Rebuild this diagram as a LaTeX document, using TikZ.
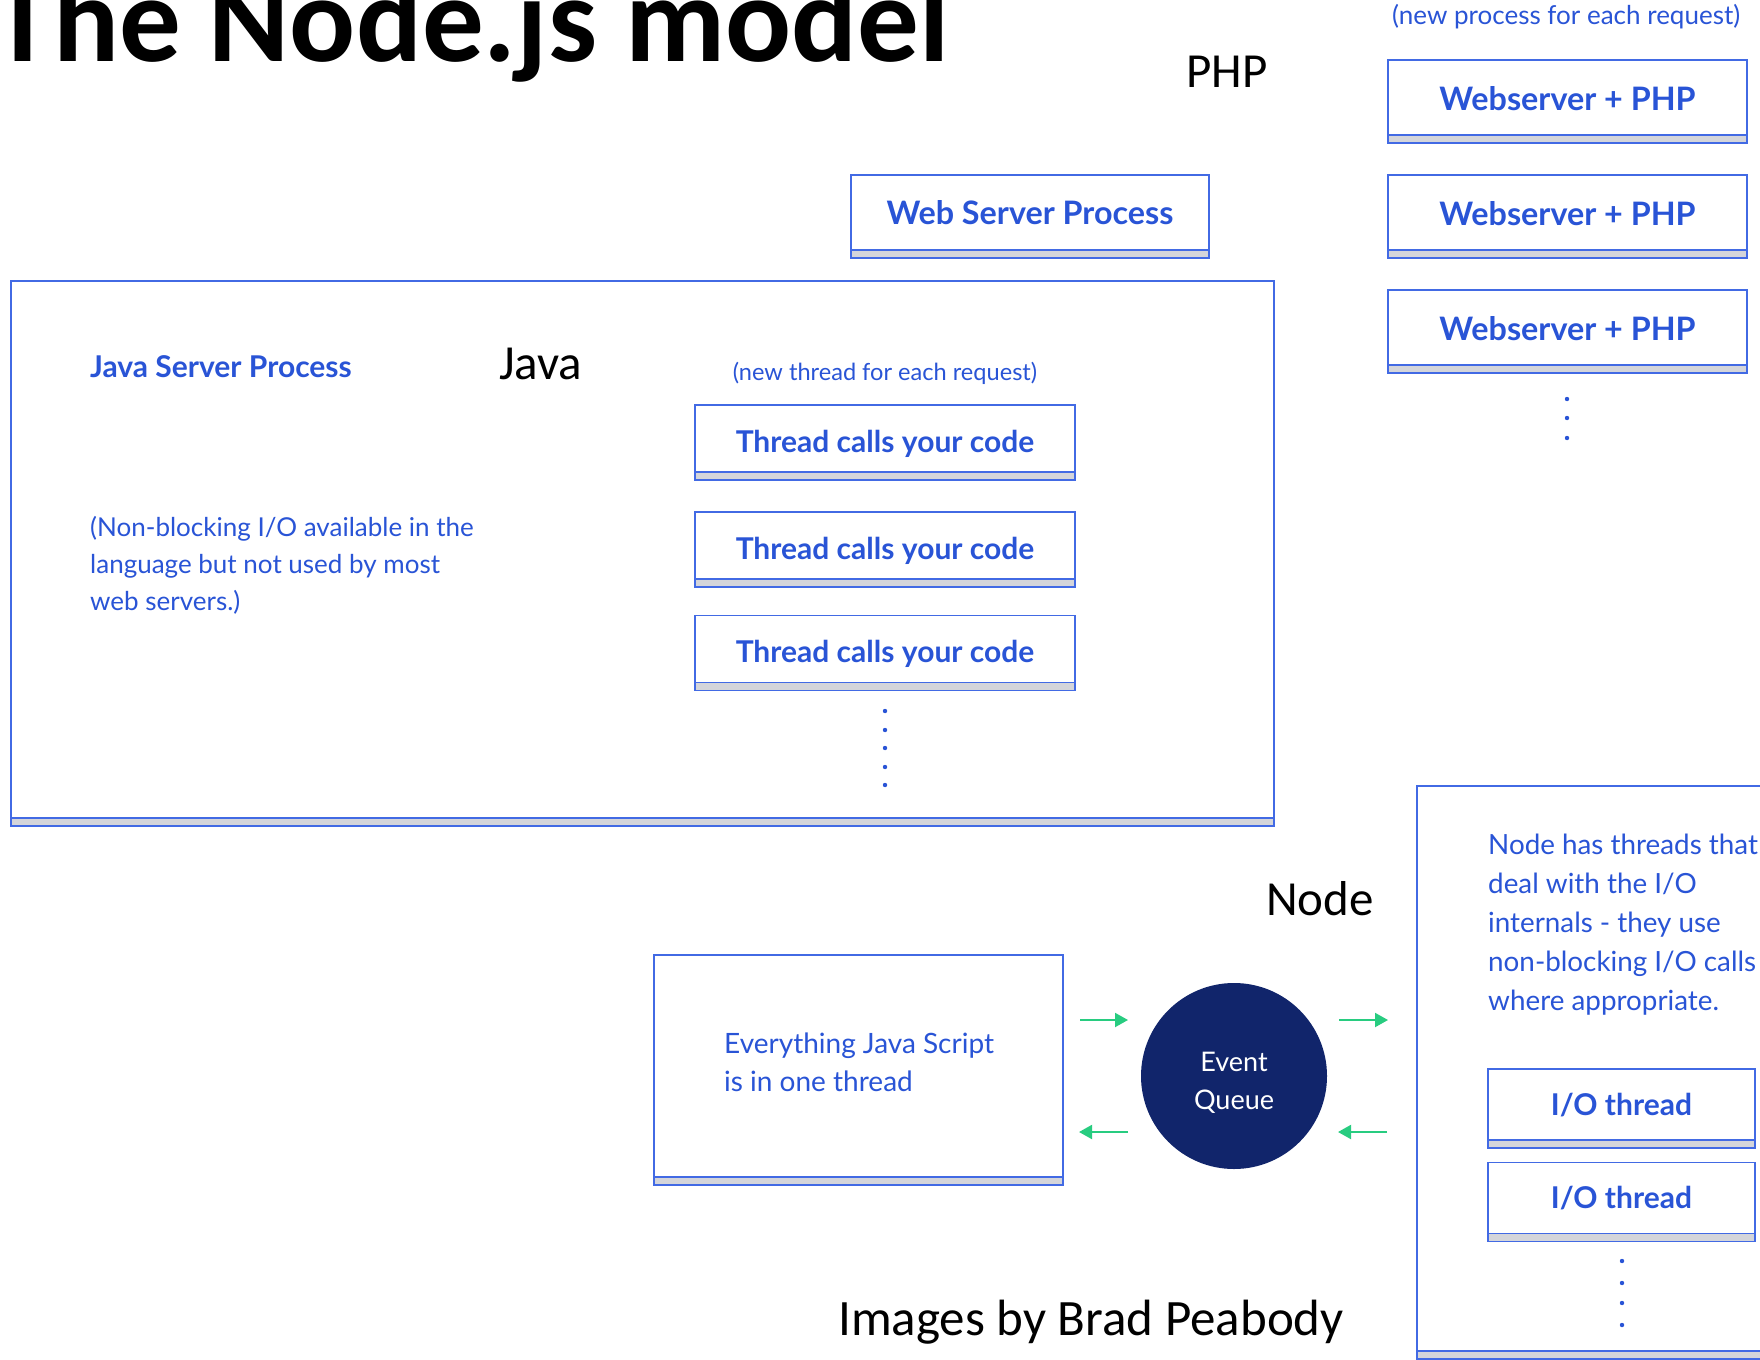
\documentclass[tikz,border=0pt]{standalone}
\usepackage{fontspec}
\setmainfont{Lato}
\newfontfamily\slidefont{Carlito}
\usetikzlibrary{arrows.meta}

\definecolor{textblue}{RGB}{41,84,214}
\definecolor{boxblue}{RGB}{66,106,228}
\definecolor{barfill}{RGB}{212,213,218}
\definecolor{navy}{RGB}{17,37,107}
\definecolor{flowgreen}{RGB}{40,204,128}

\begin{document}
\begin{tikzpicture}[x=1pt,y=-1pt,
  procbox/.style={draw=boxblue, line width=1.6pt, fill=white, inner sep=0pt,
    text=textblue,
    path picture={
      \fill[barfill] ([yshift=8pt]path picture bounding box.south west)
        rectangle (path picture bounding box.south east);
      \draw[boxblue, line width=1.4pt]
        ([yshift=8pt]path picture bounding box.south west) --
        ([yshift=8pt]path picture bounding box.south east);}},
  bigtitle/.style={font=\bfseries\fontsize{32.3}{38}\selectfont},
  smalltitle/.style={font=\bfseries\fontsize{30}{36}\selectfont},
  slidelabel/.style={anchor=base west, inner sep=0pt,
    font=\slidefont\fontsize{49}{58}\selectfont},
  note/.style={inner sep=0pt, text=textblue},
  flow/.style={draw=flowgreen, line width=2pt,
    -{Triangle[length=13pt,width=14pt]}},
  dot/.style={fill=textblue}]

\useasboundingbox (0,0) rectangle (1760,1359);
\clip (0,0) rectangle (1760,1359);
\fill[white] (0,0) rectangle (1760,1359);

% PHP: one process per request
\node[note, anchor=base west, font=\fontsize{26}{30}\selectfont] (phpnote)
  at (1392,25) {(new process for each request)};
\node[procbox, bigtitle, minimum width=359pt, text height=50.5pt, text depth=32.5pt]
  (php1) at (1567.5,101.5) {Webserver + PHP};
\node[procbox, bigtitle, minimum width=359pt, text height=50.5pt, text depth=32.5pt]
  (php2) at (1567.5,216.5) {Webserver + PHP};
\node[procbox, bigtitle, minimum width=359pt, text height=50.5pt, text depth=32.5pt]
  (php3) at (1567.5,331.5) {Webserver + PHP};
\foreach \y in {399,418,438} \fill[dot] (1567,\y) circle (2.2pt);

\node[procbox, bigtitle, minimum width=358pt, text height=49.5pt, text depth=33.5pt]
  (wsp) at (1030,216.5) {Web Server Process};

% Java: one thread per request inside a server process
\node[procbox, minimum width=1263pt, minimum height=545pt] (javabox)
  at (642.5,553.5) {};
\node[note, smalltitle, anchor=base west] (javatitle) at (90,377)
  {Java Server Process};
\node[note, align=left, anchor=base west, font=\fontsize{26}{36.7}\selectfont]
  (javanote) at (90,610)
  {(Non-blocking I/O available in the\\language but not used by most\\web servers.)};
\node[note, anchor=base, font=\fontsize{23.6}{28}\selectfont] (threadnote)
  at (885,380) {(new thread for each request)};
\node[procbox, smalltitle, minimum width=380pt, text height=47pt, text depth=28pt]
  (th1) at (885,442.5) {Thread calls your code};
\node[procbox, smalltitle, minimum width=380pt, text height=47pt, text depth=28pt]
  (th2) at (885,549.5) {Thread calls your code};
\node[procbox, smalltitle, minimum width=380pt, text height=47pt, text depth=28pt]
  (th3) at (885,653) {Thread calls your code};
\foreach \y in {711,730,748,767,785} \fill[dot] (885,\y) circle (2.2pt);

% Node: single JavaScript thread, event queue, I/O threads
\node[procbox, minimum width=409pt, minimum height=230pt] (jsbox)
  at (858.5,1070) {};
\node[note, align=left, anchor=base west, font=\fontsize{28}{38}\selectfont]
  (jsnote) at (724,1091) {Everything Java Script\\is in one thread};

\node[circle, fill=navy, minimum size=186pt, inner sep=0pt, text=white,
  align=center, text height=70pt, font=\fontsize{27}{38}\selectfont] (eq)
  at (1234,1076) {Event\\Queue};

\node[procbox, minimum width=388pt, minimum height=573pt] (nodebox)
  at (1611,1072.5) {};
\node[note, align=left, anchor=base west, font=\fontsize{27.8}{38.8}\selectfont]
  (nodenote) at (1488,1010)
  {Node has threads that\\deal with the I/O\\internals - they use\\non-blocking I/O calls\\where appropriate.};
\node[procbox, smalltitle, minimum width=267pt, text height=46pt, text depth=33pt]
  (io1) at (1621.5,1108.5) {I/O thread};
\node[procbox, smalltitle, minimum width=267pt, text height=46pt, text depth=33pt]
  (io2) at (1621.5,1202) {I/O thread};
\foreach \y in {1261,1283,1303,1325} \fill[dot] (1622,\y) circle (2.2pt);

% event flow between the JavaScript thread, the queue and the I/O side
\coordinate (jsout) at (1080,1020);
\coordinate (eqin) at (1128,1020);
\coordinate (eqout) at (1128,1132);
\coordinate (jsin) at (1079,1132);
\coordinate (ioin) at (1339,1020);
\coordinate (ioreq) at (1388,1020);
\coordinate (iodone) at (1387,1132);
\coordinate (eqback) at (1338,1132);
\draw[flow] (jsout) -- (eqin);
\draw[flow] (eqout) -- (jsin);
\draw[flow] (ioin) -- (ioreq);
\draw[flow] (iodone) -- (eqback);

% slide title and section labels, on top of the boxes
\node[anchor=base west, inner sep=0pt,
  font=\slidefont\bfseries\fontsize{123}{132}\selectfont] (title) at (-8,62)
  {The Node.js model};
\node[slidelabel] (phplbl) at (1186,88) {PHP};
\node[slidelabel] (javalbl) at (499,379) {Java};
\node[slidelabel] (nodelbl) at (1266,915) {Node};
\node[slidelabel, font=\slidefont\fontsize{51}{60}\selectfont] (credit)
  at (838,1335) {Images by Brad Peabody};

\end{tikzpicture}
\end{document}
